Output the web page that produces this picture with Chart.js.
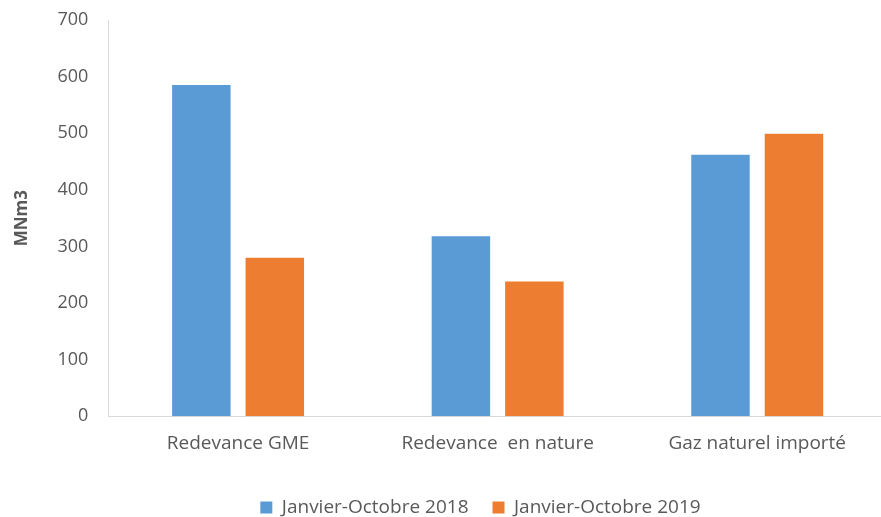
<!DOCTYPE html>
<html>
<head>
<meta charset="utf-8">
<script src="https://cdn.jsdelivr.net/npm/chart.js@4/dist/chart.umd.min.js"></script>
<style>
  html, body { margin: 0; padding: 0; background: #ffffff; overflow: hidden; }
  #wrap { width: 888px; height: 517px; }
</style>
</head>
<body>
<div id="wrap"><canvas id="c" width="888" height="517"></canvas></div>
<script>
const categories = ["Redevance GME", "Redevance  en nature", "Gaz naturel importé"];
const seriesNames = ["Janvier-Octobre 2018", "Janvier-Octobre 2019"];
const values2018 = [585, 318, 462];
const values2019 = [280, 238, 499];
const yTicks = [0, 100, 200, 300, 400, 500, 600, 700];
const yTitle = "MNm3";

const textColor = "#595959";
const axisColor = "#D9D9D9";

Chart.defaults.font.family = "'Open Sans', sans-serif";
Chart.defaults.color = textColor;

const legendShift = {
  id: 'legendShift',
  afterLayout(chart) {
    const lg = chart.legend;
    if (!lg) return;
    const dx = 37, dy = 3;
    lg.left += dx; lg.right += dx;
    lg.top += dy; lg.bottom += dy;
  }
};

new Chart(document.getElementById('c'), {
  type: 'bar',
  data: {
    labels: categories,
    datasets: [
      { label: seriesNames[0], data: values2018, backgroundColor: "#5B9BD5", borderWidth: 0,
        categoryPercentage: 0.566, barPercentage: 0.796 },
      { label: seriesNames[1], data: values2019, backgroundColor: "#ED7D31", borderWidth: 0,
        categoryPercentage: 0.566, barPercentage: 0.796 }
    ]
  },
  options: {
    responsive: false,
    animation: false,
    layout: { padding: { left: 0, right: 1, top: 20, bottom: -7 } },
    plugins: {
      legend: {
        position: 'bottom',
        labels: {
          boxWidth: 12, boxHeight: 12, padding: 24,
          color: textColor,
          font: { size: 19 }
        }
      },
      tooltip: { enabled: false }
    },
    scales: {
      x: {
        grid: { display: false, drawTicks: false },
        border: { display: true, color: axisColor, width: 1 },
        ticks: { color: textColor, font: { size: 19 }, padding: 16 }
      },
      y: {
        min: 0, max: 700,
        afterBuildTicks(scale) { scale.ticks = yTicks.map(v => ({ value: v })); },
        afterFit(scale) { scale.paddingTop = 0; },
        grid: { display: false, drawTicks: false },
        border: { display: true, color: axisColor, width: 1 },
        ticks: { color: textColor, font: { size: 18 }, padding: 20 },
        title: {
          display: true, text: yTitle, color: textColor,
          font: { size: 17, weight: 'bold' },
          padding: { top: 12, bottom: 5 }
        }
      }
    }
  },
  plugins: [legendShift]
});
</script>
</body>
</html>
